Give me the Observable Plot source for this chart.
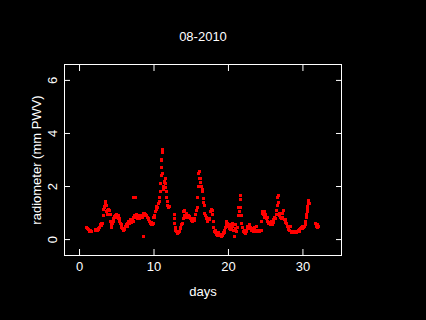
<!DOCTYPE html>
<html><head><meta charset="utf-8">
<script src="https://cdn.jsdelivr.net/npm/d3@7"></script>
<script src="https://cdn.jsdelivr.net/npm/@observablehq/plot@0.6"></script>
<style>html,body{margin:0;padding:0;background:#000;}</style>
</head><body><div id="chart"></div>
<script>
const title = "08-2010";
const xLabel = "days";
const yLabel = "radiometer (mm PWV)";
const xTicks = [0, 10, 20, 30];
const yTicks = [0, 2, 4, 6];

const day = [
0.9,1.0,1.1,1.2,1.3,1.4,1.5,1.6,
2.1,2.2,2.3,2.4,2.5,2.6,2.7,2.8,2.9,3.0,3.1,3.2,3.25,3.3,3.4,3.5,3.55,3.6,3.65,3.7,3.8,3.9,4.0,4.1,4.2,4.25,4.3,4.4,4.5,4.6,4.7,4.8,4.9,5.0,5.1,5.2,5.3,5.4,5.5,5.6,5.7,5.8,5.9,6.0,6.1,6.2,6.3,6.4,6.5,6.6,6.7,6.8,6.9,7.0,7.1,7.2,7.3,7.4,7.5,7.6,7.7,7.8,7.9,8.0,8.1,8.2,8.3,8.4,8.5,8.6,8.7,8.8,8.9,9.0,9.1,9.2,9.3,9.4,9.5,9.6,9.7,9.8,9.9,10.0,10.1,10.2,10.3,10.4,10.5,10.6,10.7,10.8,10.85,10.9,10.95,11.0,11.05,11.1,11.15,11.2,11.25,11.3,11.35,11.4,11.5,11.55,11.6,11.65,11.7,11.75,11.8,11.9,12.0,12.05,
12.7,12.75,12.8,12.85,12.9,13.0,13.1,13.2,13.3,13.4,13.5,13.6,13.7,13.8,13.9,14.0,14.05,14.1,14.2,14.3,14.4,14.5,14.6,14.7,14.8,14.9,15.0,15.1,15.2,15.3,15.4,15.5,15.6,15.7,15.8,15.9,15.95,16.0,16.05,16.1,16.2,16.3,16.4,16.45,16.5,16.6,16.7,16.75,16.8,16.9,17.0,17.1,17.2,17.3,17.4,17.5,17.6,17.7,17.8,17.9,18.0,18.05,18.1,18.2,18.3,18.4,18.5,18.6,18.7,18.8,18.9,19.0,19.1,19.2,19.3,19.4,19.5,19.6,19.7,19.8,19.9,20.0,20.1,20.2,20.3,20.4,20.5,20.6,20.7,20.8,20.85,20.9,21.0,21.1,21.2,21.3,21.4,21.5,21.55,21.6,21.65,21.7,21.8,21.9,22.0,22.1,22.2,22.3,22.4,22.5,22.6,22.7,22.8,22.9,23.0,23.1,23.2,23.3,23.4,23.5,23.6,23.7,23.8,23.9,24.0,24.1,24.2,24.3,24.4,24.5,24.55,24.6,24.7,24.8,24.9,25.0,25.1,25.2,25.3,25.4,25.5,25.6,25.7,25.8,25.9,26.0,26.1,26.2,26.3,26.4,26.5,26.6,26.65,26.7,26.75,26.8,26.9,27.0,27.1,27.2,27.3,27.4,27.5,27.6,27.7,27.8,27.9,28.0,28.1,28.2,28.3,28.4,28.5,28.6,28.7,28.8,28.9,29.0,29.1,29.2,29.3,29.4,29.5,29.6,29.7,29.8,29.9,30.0,30.1,30.2,30.3,30.4,30.45,30.5,30.55,30.6,30.65,30.7,30.75,30.8,30.85,
31.75,31.8,31.9,32.0,32.05,
7.25,7.35,7.45,8.65
];
const pwv = [
0.46,0.44,0.40,0.38,0.33,0.30,0.34,0.32,
0.38,0.34,0.36,0.33,0.38,0.40,0.45,0.55,0.62,0.52,0.60,0.90,1.15,1.25,1.20,1.35,1.42,1.30,1.05,1.10,0.95,1.15,1.10,0.95,0.70,0.55,0.45,0.60,0.70,0.80,0.88,0.92,0.85,0.95,0.88,0.90,0.80,0.70,0.62,0.55,0.45,0.40,0.35,0.38,0.42,0.50,0.55,0.48,0.60,0.70,0.62,0.68,0.75,0.65,0.72,0.70,0.85,0.90,0.82,0.95,0.85,0.78,0.90,0.80,0.88,0.82,0.90,0.85,0.92,0.98,1.00,0.92,0.95,0.90,0.85,0.75,0.80,0.70,0.62,0.55,0.65,0.58,0.60,0.82,0.90,1.05,1.15,1.25,1.20,1.35,1.45,1.60,1.80,2.10,2.40,2.70,3.00,3.30,3.40,2.50,1.90,2.00,2.15,2.20,2.30,2.10,1.95,1.80,1.60,1.45,1.30,1.25,1.20,1.25,
0.95,0.80,0.60,0.45,0.35,0.30,0.25,0.22,0.28,0.30,0.40,0.45,0.55,0.60,0.80,1.05,1.10,0.90,0.85,1.00,0.95,0.85,0.90,0.82,0.88,0.78,0.72,0.75,0.70,0.78,0.72,0.80,0.95,1.10,1.20,1.60,2.00,2.50,2.55,2.30,2.15,2.30,2.00,1.80,1.90,1.55,1.40,1.30,1.00,0.90,0.85,0.80,0.70,0.78,0.75,0.80,1.05,1.15,0.95,1.10,0.70,0.45,0.30,0.25,0.35,0.20,0.15,0.18,0.25,0.15,0.20,0.12,0.18,0.15,0.22,0.28,0.35,0.45,0.55,0.70,0.60,0.50,0.40,0.55,0.38,0.45,0.60,0.50,0.35,0.10,0.12,0.55,0.40,0.30,0.45,0.90,1.20,1.05,1.50,1.68,1.20,0.90,0.60,0.45,0.30,0.25,0.35,0.22,0.30,0.40,0.50,0.45,0.55,0.40,0.45,0.35,0.42,0.30,0.38,0.45,0.35,0.50,0.32,0.35,0.32,0.35,0.30,0.33,0.35,0.70,1.05,1.00,0.95,1.05,0.85,0.95,0.80,0.85,0.70,0.60,0.65,0.55,0.60,0.70,0.58,0.65,0.75,0.85,0.80,0.95,1.10,1.30,1.60,1.65,1.40,1.00,0.90,0.85,0.80,0.85,1.00,1.10,0.75,0.65,0.75,0.60,0.50,0.45,0.38,0.35,0.50,0.30,0.28,0.32,0.28,0.30,0.27,0.30,0.28,0.32,0.30,0.35,0.32,0.38,0.40,0.45,0.42,0.48,0.45,0.50,0.55,0.70,0.85,0.95,1.05,1.15,1.25,1.35,1.48,1.40,1.35,
0.60,0.50,0.45,0.55,0.50,
1.60,1.60,1.58,0.13
];
const plusDay = [9.7];
const plusPwv = [0.07];

const data = day.map((d, i) => ({day: d, pwv: pwv[i]}));
const plusData = plusDay.map((d, i) => ({day: d, pwv: plusPwv[i]}));

const txt = {fill: "#fff", textAnchor: "middle", lineAnchor: "middle"};

const chart = Plot.plot({
  width: 426, height: 320,
  marginLeft: 64, marginRight: 85, marginTop: 64, marginBottom: 65,
  style: {background: "#000", color: "#fff", fontFamily: "'Liberation Sans', Arial, sans-serif", fontSize: "13px"},
  x: {domain: [-2.02, 35.18], axis: null},
  y: {domain: [-0.6, 6.6], axis: null},
  marks: [
    Plot.dot(data, {x: "day", y: "pwv", symbol: "square", r: 1.7, fill: "#ff0000", stroke: "none", shapeRendering: "crispEdges"}),
    Plot.dot(plusData, {x: "day", y: "pwv", symbol: "plus", r: 1.9, fill: "#ff0000", stroke: "none", shapeRendering: "crispEdges"}),
    Plot.frame({stroke: "#fff"}),
    Plot.axisX({anchor: "bottom", ticks: xTicks, tickSize: -6, tickFormat: () => "", stroke: "#fff", label: null}),
    Plot.axisX({anchor: "top", ticks: xTicks, tickSize: -6, tickFormat: () => "", stroke: "#fff", label: null}),
    Plot.axisY({anchor: "left", ticks: yTicks, tickSize: -6, tickFormat: () => "", stroke: "#fff", label: null}),
    Plot.axisY({anchor: "right", ticks: yTicks, tickSize: -6, tickFormat: () => "", stroke: "#fff", label: null}),
    Plot.text(xTicks, {x: d => d, frameAnchor: "bottom", dy: 11, text: d => String(d), ...txt}),
    Plot.text(yTicks, {y: d => d, frameAnchor: "left", dx: -12, rotate: -90, text: d => String(d), ...txt}),
    Plot.text([title], {frameAnchor: "top", dy: -28, ...txt}),
    Plot.text([xLabel], {frameAnchor: "bottom", dy: 36, ...txt}),
    Plot.text([yLabel], {frameAnchor: "left", dx: -28, rotate: -90, ...txt})
  ]
});
document.getElementById("chart").appendChild(chart);
</script>
</body></html>
